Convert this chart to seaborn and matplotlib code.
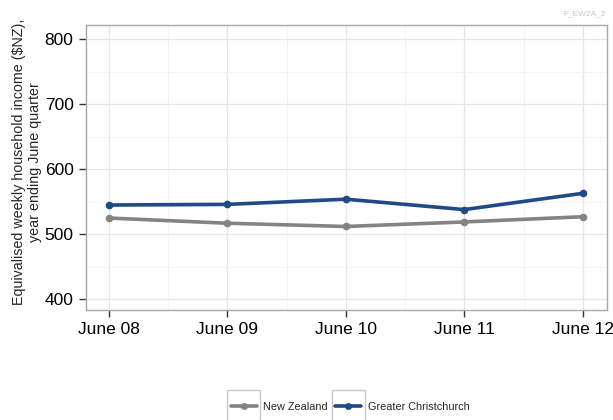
import numpy as np
import pandas as pd
import matplotlib
matplotlib.use("Agg")
import matplotlib.pyplot as plt
from matplotlib.patches import Rectangle
import seaborn as sns

# Data
periods = ["June 08", "June 09", "June 10", "June 11", "June 12"]
nz_income = [525, 517, 512, 519, 527]
chch_income = [545, 546, 554, 538, 563]
series_names = ["New Zealand", "Greater Christchurch"]

sns.set_style("white")
plt.rcParams['font.family'] = ['Liberation Sans', 'DejaVu Sans']

df = pd.DataFrame({
    "x": list(range(len(periods))) * 2,
    "income": nz_income + chch_income,
    "region": [series_names[0]] * len(periods) + [series_names[1]] * len(periods),
})
palette = {"New Zealand": "#848484", "Greater Christchurch": "#1f4a86"}

fig = plt.figure(figsize=(6.13, 4.2), dpi=100)
ax = fig.add_axes([86 / 613, 1 - 310 / 420, (607 - 86) / 613, (310 - 25) / 420])

sns.lineplot(data=df, x="x", y="income", hue="region", palette=palette,
             marker="o", markersize=5.5, markeredgewidth=0, linewidth=2.6,
             ax=ax, legend=False)

ax.set_xlim(-0.194, 4.205)
ax.set_ylim(383.5, 822)
ax.set_xticks(range(len(periods)))
ax.set_xticklabels(periods)
ax.set_yticks([400, 500, 600, 700, 800])
ax.set_xticks(np.arange(0.5, 4, 1), minor=True)
ax.set_yticks([450, 550, 650, 750], minor=True)
ax.grid(True, which="major", color="#e6e6e6", linewidth=0.9)
ax.grid(True, which="minor", color="#f2f2f2", linewidth=0.6)
ax.set_axisbelow(True)
for s in ax.spines.values():
    s.set_color("#a8a8a8")
    s.set_linewidth(1.0)
ax.tick_params(axis="both", which="major", length=5, width=1, color="#333333",
               labelsize=12.5, labelcolor="black", pad=4, direction="out",
               bottom=True, left=True)
ax.tick_params(which="minor", length=0)
ax.set_xlabel("")
ax.set_ylabel("Equivalised weekly household income ($NZ),\nyear ending June quarter",
              fontsize=10.3, linespacing=1.2)
ax.yaxis.set_label_coords((42 - 86) / 521, 0.52)

handles = [plt.Line2D([], [], color=palette[k], linewidth=2.6, marker="o",
                      markersize=5, markeredgewidth=0)
           for k in series_names]
leg = fig.legend(handles, series_names, loc="center",
                 bbox_to_anchor=(350 / 613, 1 - 407 / 420), ncol=2, frameon=False,
                 fontsize=7.8, handlelength=2.4, columnspacing=0.7, handletextpad=0.6)

# ggplot style boxes around legend keys
fig.canvas.draw()
for h in leg.legend_handles:
    bb = h.get_window_extent(fig.canvas.get_renderer())
    cx, cy = (bb.x0 + bb.x1) / 2, (bb.y0 + bb.y1) / 2
    fig.patches.append(Rectangle(((cx - 16.5) / 613, (cy - 16) / 420), 33 / 613, 32 / 420,
                                 transform=fig.transFigure, fill=False,
                                 edgecolor="#c8c8c8", linewidth=1.0))

fig.text(606 / 613, 1 - 14 / 420, "F_EW2A_2", ha="right", va="center",
         fontsize=6, color="#c8c8c8")

fig.savefig("out.png", dpi=100)
